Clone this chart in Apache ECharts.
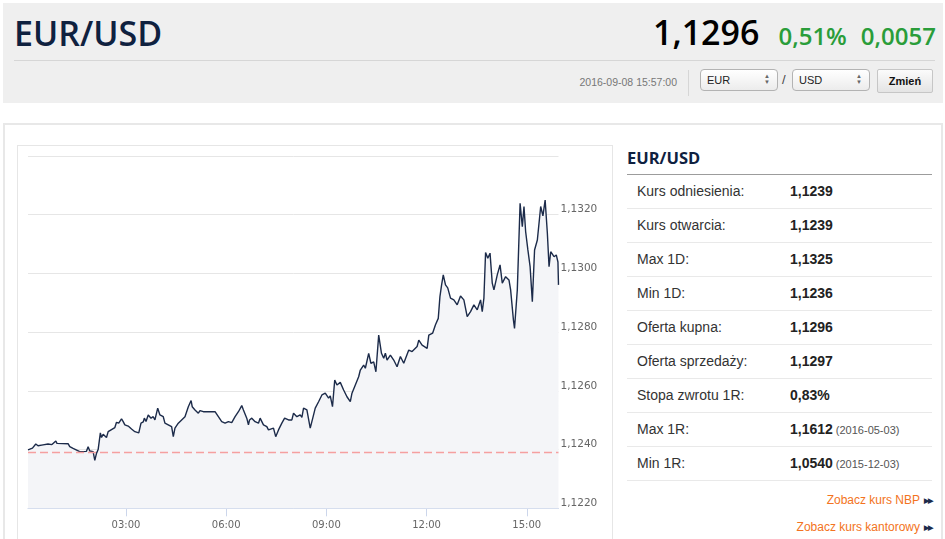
<!DOCTYPE html>
<html>
<head>
<meta charset="utf-8">
<script src="https://cdn.jsdelivr.net/npm/echarts@6/dist/echarts.min.js"></script>
<style>
  html,body{margin:0;padding:0;background:#fff;width:945px;height:539px;overflow:hidden;font-family:"Liberation Sans",Arial,sans-serif;}
  .abs{position:absolute;}
  #hdr{left:3px;top:3px;width:940px;height:100px;background:#efefef;}
  #title{left:14px;top:13px;font:600 34px/40px "Open Sans",sans-serif;color:#0f213f;white-space:nowrap;}
  #quote{right:9px;top:12px;white-space:nowrap;font-family:"Open Sans",sans-serif;line-height:40px;}
  #quote .p{font-weight:600;font-size:34px;color:#000;}
  #quote .g{font-weight:600;font-size:24px;color:#2a9d3a;margin-left:14px;}
  #hline{left:14px;top:60px;width:921px;height:1px;background:#d6d6d6;}
  #date{right:268px;top:76px;font-size:10.5px;color:#777;line-height:12px;}
  #vsep{left:688px;top:70px;width:1px;height:26px;background:#d6d6d6;}
  .sel{top:69px;width:76px;height:20px;border:1px solid #b3b3b3;border-radius:4px;background:linear-gradient(#ffffff,#ececec);font-size:11px;color:#222;line-height:20px;box-sizing:content-box;}
  .sel span.t{position:absolute;left:6px;top:0;}
  .sel span.a{position:absolute;right:7px;top:3px;font-size:6px;line-height:6px;color:#666;}
  #slash{left:782px;top:72px;font-size:13px;color:#444;}
  #btn{left:877px;top:69px;width:54px;height:22px;border:1px solid #c6c6c6;border-radius:2px;background:linear-gradient(#fbfbfb,#e4e4e4);font-weight:bold;font-size:11px;color:#111;line-height:22px;text-align:center;}
  #panel{left:3px;top:123px;width:936px;height:430px;border:2px solid #e8e8e8;background:#fff;}
  #cbox{left:17px;top:145px;width:594px;height:420px;border:1px solid #e6e6e6;background:#fff;}
  #rhead{left:627px;top:146px;font:700 16.5px/24px "Open Sans",sans-serif;color:#0f213f;}
  #rline{left:627px;top:174px;width:305px;height:1px;background:#9c9c9c;}
  .row{left:627px;width:305px;height:33px;border-bottom:1px solid #e9e9e9;font-size:14px;line-height:33px;color:#333;}
  .row .l{position:absolute;left:10px;}
  .row .v{position:absolute;left:163px;font-weight:bold;color:#222;}
  .row .d{font-weight:normal;font-size:11px;color:#555;margin-left:3px;}
  .lnk{right:13px;font-size:12px;color:#f37321;white-space:nowrap;}
  .lnk b{color:#1c2b4a;font-size:7px;margin-left:4px;letter-spacing:-1px;vertical-align:1px;}
  #chart{position:absolute;left:0;top:0;width:945px;height:539px;}
</style>
</head>
<body>
<div id="hdr" class="abs"></div>
<div id="title" class="abs">EUR/USD</div>
<div id="quote" class="abs"><span class="p">1,1296</span><span class="g" style="margin-left:19px">0,51%</span><span class="g">0,0057</span></div>
<div id="hline" class="abs"></div>
<div id="date" class="abs">2016-09-08 15:57:00</div>
<div id="vsep" class="abs"></div>
<div class="abs sel" style="left:700px"><span class="t">EUR</span><span class="a">▲<br>▼</span></div>
<div id="slash" class="abs">/</div>
<div class="abs sel" style="left:792px"><span class="t">USD</span><span class="a">▲<br>▼</span></div>
<div id="btn" class="abs">Zmień</div>

<div id="panel" class="abs"></div>
<div id="cbox" class="abs"></div>
<div id="rhead" class="abs">EUR/USD</div>
<div id="rline" class="abs"></div>
<div id="rows"></div>
<div class="abs lnk" style="top:493px">Zobacz kurs NBP<b>▶▶</b></div>
<div class="abs lnk" style="top:520px">Zobacz kurs kantorowy<b>▶▶</b></div>

<div id="chart"></div>
<script>
// ---- table data ----
var statLabels = ["Kurs odniesienia:", "Kurs otwarcia:", "Max 1D:", "Min 1D:", "Oferta kupna:", "Oferta sprzedaży:", "Stopa zwrotu 1R:", "Max 1R:", "Min 1R:"];
var statValues = ["1,1239", "1,1239", "1,1325", "1,1236", "1,1296", "1,1297", "0,83%", "1,1612", "1,0540"];
var statDates  = ["", "", "", "", "", "", "", "(2016-05-03)", "(2015-12-03)"];

// ---- chart data ----
var times = [
"00:04","00:07","00:12","00:18","00:22","00:25","00:31","00:40","00:47","00:54",
"00:56","01:16","01:19","01:22","01:25","01:28","01:37","01:49","01:52","01:55",
"02:01","02:04","02:07","02:10","02:14","02:16","02:19","02:25","02:28","02:34",
"02:40","02:43","02:47","02:52","02:55","02:58","03:04","03:07","03:10","03:16",
"03:19","03:23","03:27","03:31","03:33","03:36","03:40","03:45","03:49","03:52",
"03:57","04:01","04:04","04:07","04:10","04:16","04:22","04:25","04:28","04:34",
"04:37","04:40","04:46","04:52","04:57","04:59","05:04","05:07","05:10","05:13",
"05:16","05:19","05:40","05:46","05:52","05:58","06:04","06:10","06:16","06:22",
"06:28","06:31","06:34","06:37","06:40","06:42","06:46","06:52","06:58","07:01",
"07:07","07:13","07:16","07:19","07:25","07:29","07:34","07:40","07:45","07:52",
"07:58","08:01","08:07","08:13","08:16","08:19","08:25","08:31","08:37","08:40",
"08:46","08:52","08:58","09:04","09:07","09:11","09:15","09:19","09:25","09:31",
"09:37","09:43","09:46","09:52","09:58","10:01","10:07","10:10","10:16","10:20",
"10:25","10:29","10:34","10:39","10:43","10:46","10:49","10:55","11:01","11:07",
"11:13","11:19","11:28","11:34","11:43","11:46","11:52","12:01","12:04","12:11",
"12:16","12:21","12:24","12:27","12:30","12:34","12:38","12:43","12:49","12:55",
"13:01","13:07","13:13","13:19","13:25","13:31","13:37","13:40","13:43","13:46",
"13:50","13:54","13:58","14:01","14:07","14:12","14:16","14:22","14:28","14:31",
"14:36","14:38","14:43","14:48","14:52","14:55","14:58","15:02","15:06","15:10",
"15:14","15:19","15:25","15:29","15:33","15:37","15:40","15:43","15:49","15:53",
"15:56","15:57"];
var rates = [
1.12399,1.12393,1.12405,1.12419,1.12413,1.12419,1.12416,1.12419,1.12417,1.12429,
1.12421,1.12420,1.12410,1.12414,1.12404,1.12401,1.12393,1.12394,1.12410,1.12395,
1.12393,1.12363,1.12387,1.12400,1.12457,1.12441,1.12452,1.12441,1.12461,1.12468,
1.12475,1.12493,1.12490,1.12505,1.12495,1.12484,1.12480,1.12484,1.12470,1.12461,
1.12456,1.12457,1.12490,1.12494,1.12507,1.12496,1.12518,1.12507,1.12512,1.12501,
1.12541,1.12518,1.12518,1.12512,1.12490,1.12484,1.12478,1.12444,1.12473,1.12490,
1.12484,1.12501,1.12512,1.12546,1.12567,1.12546,1.12535,1.12541,1.12524,1.12533,
1.12537,1.12529,1.12529,1.12512,1.12495,1.12490,1.12495,1.12492,1.12512,1.12529,
1.12550,1.12535,1.12529,1.12507,1.12484,1.12501,1.12507,1.12495,1.12490,1.12507,
1.12484,1.12478,1.12467,1.12461,1.12473,1.12444,1.12467,1.12490,1.12507,1.12501,
1.12501,1.12524,1.12512,1.12518,1.12510,1.12541,1.12535,1.12473,1.12518,1.12541,
1.12563,1.12586,1.12592,1.12575,1.12583,1.12546,1.12637,1.12620,1.12629,1.12603,
1.12580,1.12563,1.12592,1.12620,1.12648,1.12671,1.12688,1.12677,1.12728,1.12694,
1.12699,1.12665,1.12790,1.12728,1.12711,1.12728,1.12705,1.12722,1.12705,1.12682,
1.12717,1.12694,1.12739,1.12734,1.12751,1.12773,1.12756,1.12745,1.12790,1.12797,
1.12825,1.12847,1.12921,1.12961,1.12995,1.12961,1.12951,1.12916,1.12910,1.12893,
1.12923,1.12910,1.12853,1.12870,1.12893,1.12876,1.12910,1.12870,1.12916,1.13071,
1.13052,1.13069,1.12967,1.12944,1.12995,1.13029,1.12967,1.12989,1.12978,1.12944,
1.12842,1.12813,1.12944,1.13239,1.13159,1.13228,1.13142,1.13080,1.13023,1.12904,
1.13080,1.13114,1.13228,1.13196,1.13250,1.13137,1.13023,1.13074,1.13057,1.13063,
1.13039,1.12961];
var referenceRate = 1.1239;
var xTickTimes = ["03:00", "06:00", "09:00", "12:00", "15:00"];
var yMin = 1.122, yMax = 1.134, yStep = 0.002;

// ---- build table ----
var rowsEl = document.getElementById('rows');
statLabels.forEach(function (lab, i) {
  var d = document.createElement('div');
  d.className = 'abs row';
  d.style.top = (175 + i * 34) + 'px';
  d.innerHTML = '<span class="l">' + lab + '</span><span class="v">' + statValues[i] +
    (statDates[i] ? '<span class="d">' + statDates[i] + '</span>' : '') + '</span>';
  rowsEl.appendChild(d);
});

// ---- chart ----
function toMin(t) { var p = t.split(':'); return (+p[0]) * 60 + (+p[1]); }
function fmtMin(m) { var h = Math.floor(m / 60), mm = m % 60; return (h < 10 ? '0' : '') + h + ':' + (mm < 10 ? '0' : '') + mm; }
var seriesData = times.map(function (t, i) { return [toMin(t), rates[i]]; });
var tickVals = xTickTimes.map(toMin);
var xMin = toMin(times[0]), xMax = toMin(times[times.length - 1]);

var chart = echarts.init(document.getElementById('chart'), null, { renderer: 'canvas' });
chart.setOption({
  animation: false,
  backgroundColor: 'transparent',
  grid: { left: 28, right: 386.5, top: 156, bottom: 30.7 },
  xAxis: {
    type: 'value',
    min: xMin,
    max: xMax,
    splitLine: { show: false },
    axisLine: { lineStyle: { color: '#ccd6eb', width: 1 } },
    axisTick: { show: true, customValues: tickVals, length: 8, lineStyle: { color: '#ccd6eb' } },
    axisLabel: { customValues: tickVals, formatter: function (v) { return fmtMin(v); }, color: '#666', fontFamily: 'DejaVu Sans', fontSize: 10, margin: 12 }
  },
  yAxis: {
    type: 'value',
    position: 'right',
    min: yMin, max: yMax, interval: yStep,
    axisLine: { show: false },
    axisTick: { show: false },
    splitLine: { lineStyle: { color: '#e6e6e6', width: 1 } },
    axisLabel: {
      margin: 2,
      verticalAlign: 'bottom',
      lineHeight: 10,
      color: '#666', fontFamily: 'DejaVu Sans', fontSize: 10.5,
      formatter: function (v) { return v > yMax - yStep / 4 ? '' : v.toFixed(4).replace('.', ','); }
    }
  },
  series: [{
    type: 'line',
    z: 2,
    data: seriesData,
    showSymbol: false,
    symbol: 'none',
    lineStyle: { color: '#1c2b4a', width: 1.4 },
    areaStyle: { color: '#f4f5f8', origin: 'start', opacity: 1 }
  }, {
    type: 'line',
    z: 5,
    data: [[xMin, referenceRate], [xMax, referenceRate]],
    showSymbol: false,
    symbol: 'none',
    silent: true,
    lineStyle: { color: '#f5a0a0', type: [8, 4], width: 1.5 }
  }]
});
</script>
</body>
</html>
